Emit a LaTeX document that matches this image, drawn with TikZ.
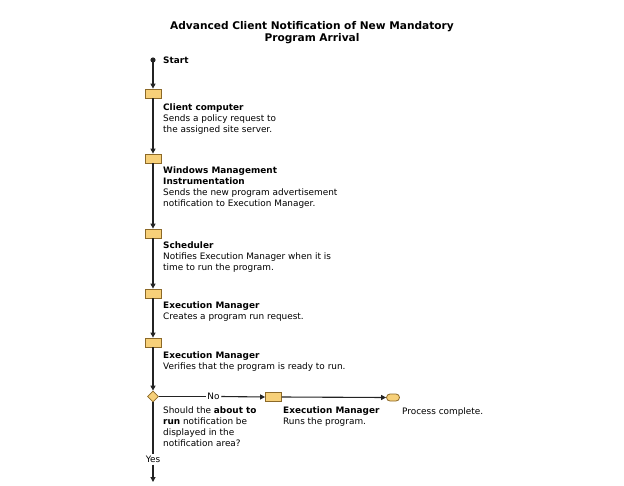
\documentclass[tikz,border=0pt]{standalone}
\usepackage{fontspec}
\setmainfont{DejaVu Sans}
\usetikzlibrary{arrows.meta,shapes.geometric}
\definecolor{boxfill}{RGB}{247,208,121}
\definecolor{boxedge}{RGB}{140,105,40}
\definecolor{linec}{RGB}{35,35,35}
\tikzset{
  stepbox/.style={draw=boxedge, fill=boxfill, line width=0.8pt, minimum width=16pt, minimum height=9pt, inner sep=0pt},
  decision/.style={diamond, draw=boxedge, fill=boxfill, line width=0.8pt, minimum width=11pt, minimum height=11pt, inner sep=0pt, aspect=1},
  endbox/.style={draw=boxedge, fill=boxfill, line width=0.8pt, minimum width=13pt, minimum height=7pt, inner sep=0pt, rounded corners=3.5pt},
  flow/.style={draw=linec, line width=1.1pt, -{Triangle[length=5pt,width=5pt]}},
  plain/.style={draw=linec, line width=1.1pt},
  desc/.style={anchor=base west, inner sep=0pt, align=left, font=\fontsize{8.9}{10.9}\selectfont},
  lbl/.style={inner sep=1.5pt, font=\fontsize{8.9}{10}\selectfont},
}
\begin{document}
\begin{tikzpicture}[x=1pt,y=-1pt]
\useasboundingbox (0,0) rectangle (624,485);
% title (base anchor = last line)
\node[anchor=base, inner sep=0pt, align=center, font=\fontsize{10.6}{12.2}\selectfont\bfseries] (title) at (312,41.5) {Advanced Client Notification of New Mandatory\\Program Arrival};
% start
\fill[linec] (153,60) circle (2.6pt);
\coordinate (start) at (153,60);
\node[desc, font=\fontsize{8.9}{10.9}\selectfont\bfseries] (tstart) at (163,63) {Start};
% boxes
\node[stepbox] (b1) at (153,93.5) {};
\node[stepbox] (b2) at (153,158.5) {};
\node[stepbox] (b3) at (153,233.5) {};
\node[stepbox] (b4) at (153,293.5) {};
\node[stepbox] (b5) at (153,342.5) {};
\node[decision] (d) at (153,396.5) {};
\node[stepbox] (b6) at (273.5,397) {};
\node[endbox] (e) at (393,397.5) {};
% texts (base anchor = baseline of last line)
\node[desc] (t1) at (163,132) {\textbf{Client computer}\\Sends a policy request to\\the assigned site server.};
\node[desc] (t2) at (163,206.5) {\textbf{Windows Management}\\\textbf{Instrumentation}\\Sends the new program advertisement\\notification to Execution Manager.};
\node[desc] (t3) at (163,270.5) {\textbf{Scheduler}\\Notifies Execution Manager when it is\\time to run the program.};
\node[desc] (t4) at (163,319.5) {\textbf{Execution Manager}\\Creates a program run request.};
\node[desc] (t5) at (163,369) {\textbf{Execution Manager}\\Verifies that the program is ready to run.};
\node[desc] (tq) at (163,446.5) {Should the \textbf{about to}\\\textbf{run} notification be\\displayed in the\\notification area?};
\node[desc] (t6) at (283,424.5) {\textbf{Execution Manager}\\Runs the program.};
\node[desc] (te) at (402,414) {Process complete.};
\node[lbl] (no) at (213.5,396.5) {No};
\node[lbl] (yes) at (153,459.5) {Yes};
\coordinate (yesend) at (153,482);
% connectors
\draw[flow] (start) -- (b1);
\draw[flow] (b1) -- (b2);
\draw[flow] (b2) -- (b3);
\draw[flow] (b3) -- (b4);
\draw[flow] (b4) -- (b5);
\draw[flow] (b5) -- (d);
\draw[plain] (d.east) -- (no.west);
\draw[flow] (no.east) -- (b6.west);
\draw[flow] (b6.east) -- (e.west);
\draw[plain] (d.south) -- (yes.north);
\draw[flow] (yes.south) -- (yesend);
\end{tikzpicture}
\end{document}
